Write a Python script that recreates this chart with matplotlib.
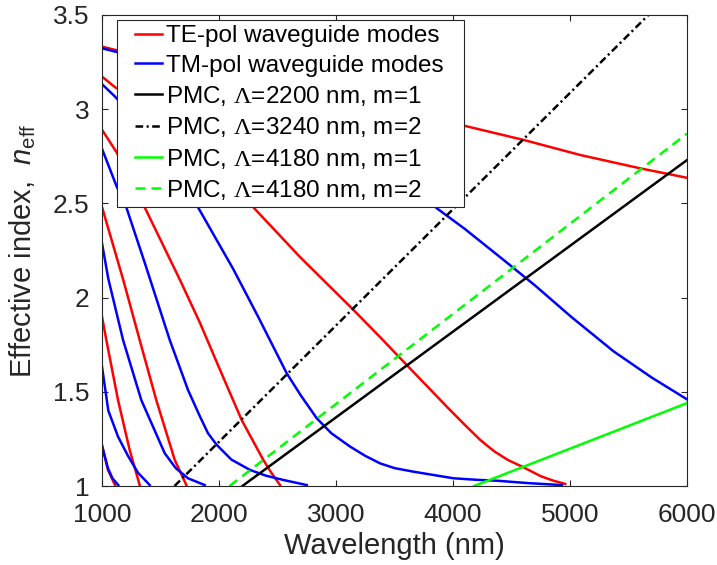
import matplotlib
matplotlib.use("Agg")
import matplotlib.pyplot as plt
from matplotlib.patches import Rectangle

plt.rcParams.update({
    "font.family": ["Liberation Sans", "DejaVu Sans"],
    "mathtext.fontset": "custom",
    "mathtext.rm": "Liberation Serif",
    "mathtext.it": "Liberation Sans:italic",
    "mathtext.sf": "Liberation Sans",
    "lines.scale_dashes": False,
})

# ---- waveguide modes (wavelength nm, n_eff) ----
te0_wl = [1000, 1111, 1500, 2000, 2500, 3000, 3500, 4104, 4603, 5087, 5601, 6000]
te0_n = [3.332, 3.315, 3.26, 3.19, 3.12, 3.05, 2.99, 2.911, 2.837, 2.757, 2.686, 2.636]
tm0_wl = [1000, 1111, 1500, 2000, 2500, 3000, 3500, 3862, 4100, 4432, 4700, 5016, 5372, 5700, 6000]
tm0_n = [3.323, 3.306, 3.25, 3.16, 3.05, 2.90, 2.69, 2.474, 2.365, 2.20, 2.065, 1.895, 1.715, 1.575, 1.46]

te1_wl = [1000, 1111, 1500, 2000, 2294, 2693, 3149, 3377, 3605, 3947, 4100, 4232, 4350, 4470, 4603,
          4750, 4859, 4959]
te1_n = [3.173, 3.117, 2.97, 2.67, 2.479, 2.215, 1.935, 1.79, 1.642, 1.421, 1.325, 1.245, 1.185, 1.138,
         1.099, 1.052, 1.028, 1.011]
tm1_wl = [1000, 1111, 1500, 1821, 2123, 2334, 2579, 2700, 2836, 2960, 3121, 3250, 3377, 3500, 3662, 4004,
          4200, 4375, 4650, 4931]
tm1_n = [3.133, 3.067, 2.79, 2.479, 2.15, 1.899, 1.598, 1.48, 1.359, 1.28, 1.209, 1.16, 1.12, 1.095, 1.076,
         1.041, 1.033, 1.028, 1.015, 1.005]

te2_wl = [1000, 1126, 1365, 1667, 1838, 2009, 2194, 2379, 2450, 2522]
te2_n = [2.891, 2.77, 2.479, 2.093, 1.865, 1.616, 1.35, 1.138, 1.068, 1.005]
tm2_wl = [1000, 1126, 1208, 1368, 1579, 1735, 1838, 1906, 1981, 2106, 2266, 2400, 2550, 2750]
tm2_n = [2.79, 2.589, 2.479, 2.18, 1.775, 1.51, 1.368, 1.28, 1.218, 1.14, 1.085, 1.055, 1.032, 1.005]

te3_wl = [1000, 1182, 1322, 1464, 1622, 1721]
te3_n = [2.481, 2.093, 1.775, 1.456, 1.138, 1.005]
tm3_wl = [1000, 1054, 1180, 1336, 1536, 1630, 1735, 1878]
tm3_n = [2.288, 2.10, 1.775, 1.456, 1.174, 1.095, 1.041, 1.005]

te4_wl = [1000, 1037, 1137, 1237, 1322]
te4_n = [1.899, 1.775, 1.456, 1.19, 1.005]
tm4_wl = [1000, 1054, 1137, 1222, 1308, 1408]
tm4_n = [1.633, 1.40, 1.262, 1.16, 1.07, 1.005]

te5_wl = [1000, 1051, 1111]
te5_n = [1.217, 1.085, 1.005]
tm5_wl = [1000, 1051, 1090, 1139]
tm5_n = [1.213, 1.094, 1.04, 1.005]

# ---- PMC light lines (end points) ----
pmc1_wl, pmc1_n = [2200, 6000], [1.0, 2.73]   # Lambda=2200, m=1
pmc2_wl, pmc2_n = [1620, 5670], [1.0, 3.5]    # Lambda=3240, m=2
pmc3_wl, pmc3_n = [4180, 6000], [1.0, 1.44]   # Lambda=4180, m=1
pmc4_wl, pmc4_n = [2090, 6000], [1.0, 2.87]   # Lambda=4180, m=2

te_modes = [(te0_wl, te0_n), (te1_wl, te1_n), (te2_wl, te2_n),
            (te3_wl, te3_n), (te4_wl, te4_n), (te5_wl, te5_n)]
tm_modes = [(tm0_wl, tm0_n), (tm1_wl, tm1_n), (tm2_wl, tm2_n),
            (tm3_wl, tm3_n), (tm4_wl, tm4_n), (tm5_wl, tm5_n)]

xticks = [1000, 2000, 3000, 4000, 5000, 6000]
yticks = [1, 1.5, 2, 2.5, 3, 3.5]
ytick_labels = ["1", "1.5", "2", "2.5", "3", "3.5"]

RED = (1, 0, 0)
BLUE = (0, 0, 1)
GREEN = (0, 1, 0)
DARK = (0.15, 0.15, 0.15)
LW = 1.8

fig = plt.figure(figsize=(7.17, 5.65), dpi=100)
ax = fig.add_axes([102 / 717, 1 - 486 / 565, 585 / 717, 471 / 565])

for i, (wl, n) in enumerate(te_modes):
    ax.plot(wl, n, color=RED, lw=LW, label="TE-pol waveguide modes" if i == 0 else None)
for i, (wl, n) in enumerate(tm_modes):
    ax.plot(wl, n, color=BLUE, lw=LW, label="TM-pol waveguide modes" if i == 0 else None)

ax.plot(pmc1_wl, pmc1_n, color="black", lw=LW,
        label=r"PMC, $\Lambda$=2200 nm, m=1")
ax.plot(pmc2_wl, pmc2_n, color="black", lw=LW, linestyle=(0, (5.5, 2.5, 1.5, 2.5)),
        label=r"PMC, $\Lambda$=3240 nm, m=2")
ax.plot(pmc3_wl, pmc3_n, color=GREEN, lw=LW,
        label=r"PMC, $\Lambda$=4180 nm, m=1")
ax.plot(pmc4_wl, pmc4_n, color=GREEN, lw=LW, linestyle=(0, (7, 4.5)),
        label=r"PMC, $\Lambda$=4180 nm, m=2")

ax.set_xlim(1000, 6000)
ax.set_ylim(1, 3.5)
ax.set_xticks(xticks)
ax.set_xticklabels([str(t) for t in xticks])
ax.set_yticks(yticks)
ax.set_yticklabels(ytick_labels)
ax.tick_params(direction="in", top=True, right=True, length=4.5, width=0.8,
               labelsize=19, colors=DARK)
ax.tick_params(axis="x", pad=12)
ax.tick_params(axis="y", pad=9)
for sp in ax.spines.values():
    sp.set_color(DARK)
    sp.set_linewidth(0.8)

ax.set_xlabel("Wavelength (nm)", fontsize=21, color=DARK, labelpad=4)
ax.set_ylabel(r"Effective index,  $n_{\mathsf{eff}}$", fontsize=21, color=DARK, labelpad=11)

# legend box drawn separately so it can have the wide side margins of the original
box = Rectangle((0.0251, 0.5924), 0.6188 - 0.0251, 0.9894 - 0.5924, transform=ax.transAxes,
                facecolor="white", edgecolor=DARK, linewidth=0.8, zorder=4.9)
ax.add_patch(box)
leg = ax.legend(loc="upper left", bbox_to_anchor=(0.057, 0.978), borderaxespad=0,
                fontsize=17.5, frameon=False, handlelength=1.1, handletextpad=0.15,
                labelspacing=0.3, borderpad=0)
leg.set_zorder(5)

fig.savefig("out.png", dpi=100)
